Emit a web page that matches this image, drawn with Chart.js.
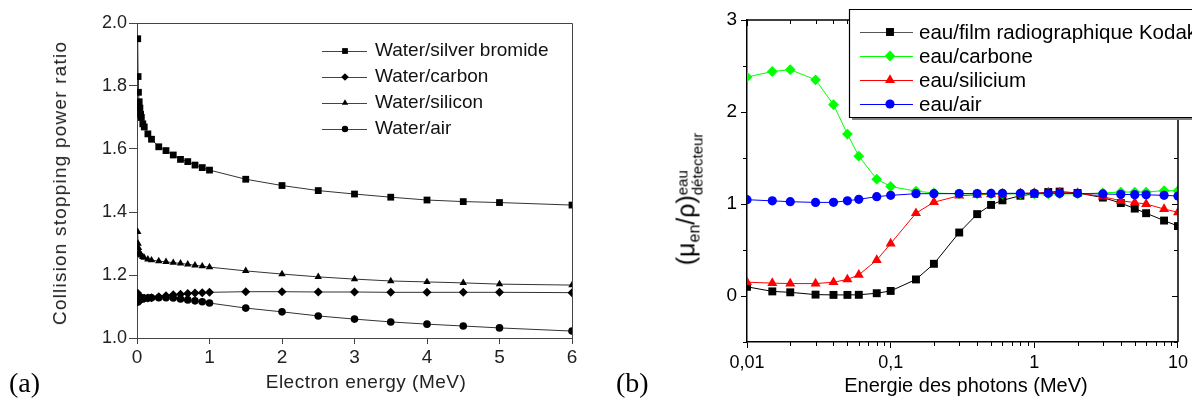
<!DOCTYPE html>
<html><head><meta charset="utf-8">
<script src="https://cdn.jsdelivr.net/npm/chart.js@4/dist/chart.umd.min.js"></script>
<style>
html,body{margin:0;padding:0;background:#fff;}
body{width:1192px;height:406px;position:relative;overflow:hidden;font-family:"Liberation Sans",Arial,sans-serif;}
#wa{position:absolute;left:0;top:0;width:600px;height:406px;}
#wb{position:absolute;left:600px;top:0;width:592px;height:406px;}
.lbl{position:absolute;white-space:nowrap;color:#000;}
.ctr{transform:translate(-50%,-50%);}
.rot{transform:translate(-50%,-50%) rotate(-90deg);}
.panel{font-family:"Liberation Serif","DejaVu Serif",serif;font-size:28px;}
.stk{display:inline-block;vertical-align:-8px;font-size:15px;line-height:15px;}
.stk span{display:block;}
</style></head><body>
<div id="wa"><canvas id="ca" width="600" height="406"></canvas></div>
<div id="wb"><canvas id="cb" width="592" height="406"></canvas></div>
<div class="lbl rot" style="left:60px;top:183px;font-size:19px;letter-spacing:1.2px;color:#222;">Collision stopping power ratio</div>
<div class="lbl ctr" style="left:366px;top:382px;font-size:19px;letter-spacing:0.5px;color:#222;">Electron energy (MeV)</div>
<div class="lbl panel" style="left:9px;top:367px;">(a)</div>
<div class="lbl ctr" style="left:966px;top:385px;font-size:20px;">Energie des photons (MeV)</div>
<div class="lbl panel" style="left:616px;top:367px;">(b)</div>
<div class="lbl rot" style="left:690px;top:199px;font-size:25px;line-height:34px;">(μ<span style="font-size:16px;vertical-align:-5px;">en</span>/ρ)<span class="stk"><span>eau</span><span>détecteur</span></span></div>
<script>
// ---------- Panel (a) data ----------
const energyA = [0.01,0.015,0.02,0.03,0.04,0.05,0.06,0.08,0.1,0.15,0.2,0.3,0.4,0.5,0.6,0.7,0.8,0.9,1,1.5,2,2.5,3,3.5,4,4.5,5,6];
const silverBromide = [1.95,1.83,1.78,1.75,1.73,1.71,1.70,1.68,1.67,1.648,1.631,1.607,1.595,1.581,1.567,1.56,1.549,1.541,1.533,1.504,1.484,1.468,1.457,1.447,1.438,1.433,1.43,1.422];
const carbonA = [1.142,1.135,1.131,1.128,1.127,1.126,1.126,1.126,1.126,1.127,1.128,1.131,1.134,1.137,1.139,1.141,1.143,1.144,1.145,1.147,1.147,1.146,1.146,1.145,1.145,1.145,1.145,1.144];
const siliconA = [1.337,1.30,1.286,1.273,1.268,1.265,1.262,1.258,1.255,1.25,1.247,1.244,1.242,1.239,1.237,1.234,1.231,1.228,1.225,1.213,1.203,1.194,1.187,1.181,1.178,1.175,1.171,1.168];
const airA = [1.114,1.116,1.118,1.12,1.122,1.123,1.124,1.125,1.126,1.127,1.128,1.128,1.128,1.127,1.124,1.121,1.118,1.115,1.111,1.095,1.083,1.07,1.06,1.051,1.044,1.038,1.032,1.022];
const seriesNamesA = ['Water/silver bromide','Water/carbon','Water/silicon','Water/air'];
const xTicksA = [0,1,2,3,4,5,6];
const xTickLabelsA = ['0','1','2','3','4','5','6'];
const yTicksA = [1.0,1.2,1.4,1.6,1.8,2.0];
const yTickLabelsA = ['1.0','1.2','1.4','1.6','1.8','2.0'];

// ---------- Panel (b) data ----------
const energyB = [0.01,0.015,0.02,0.03,0.04,0.05,0.06,0.08,0.1,0.15,0.2,0.3,0.4,0.5,0.6,0.8,1,1.25,1.5,2,3,4,5,6,8,10];
const kodakB = [0.1,0.05,0.04,0.015,0.012,0.012,0.013,0.03,0.055,0.18,0.35,0.69,0.89,0.99,1.04,1.09,1.11,1.13,1.135,1.12,1.07,1.01,0.95,0.9,0.82,0.76];
const carbonB = [2.38,2.44,2.46,2.35,2.08,1.76,1.52,1.27,1.19,1.14,1.12,1.11,1.11,1.11,1.11,1.11,1.11,1.11,1.11,1.11,1.12,1.13,1.13,1.13,1.145,1.145];
const siliconB = [0.15,0.14,0.135,0.135,0.15,0.18,0.23,0.39,0.57,0.9,1.02,1.09,1.1,1.105,1.11,1.115,1.12,1.125,1.125,1.12,1.08,1.035,1.015,1.0,0.945,0.91];
const airB = [1.047,1.034,1.025,1.017,1.018,1.035,1.051,1.08,1.094,1.112,1.112,1.113,1.114,1.115,1.116,1.116,1.116,1.116,1.116,1.115,1.109,1.105,1.101,1.1,1.094,1.087];
const seriesNamesB = ['eau/film radiographique Kodak','eau/carbone','eau/silicium','eau/air'];
const xTicksB = [0.01,0.1,1,10];
const xTickLabelsB = ['0,01','0,1','1','10'];
const yTicksB = [0,1,2,3];
const yTickLabelsB = ['0','1','2','3'];
const yMinorB = [-0.5,0.5,1.5,2.5];
const xMinorMultB = [2,3,4,5,6,7,8,9];

const FONT = '"Liberation Sans", Arial, sans-serif';
const pts = (xs, ys) => xs.map((x, i) => ({x: x, y: ys[i]}));

// ---------- Panel (a) ----------
const decorA = {
  id: 'decorA',
  afterDraw(chart) {
    const {ctx, chartArea: a} = chart;
    ctx.save();
    ctx.strokeStyle = '#444'; ctx.lineWidth = 1;
    ctx.beginPath();
    ctx.moveTo(a.left, a.top + 0.5); ctx.lineTo(a.right + 0.5, a.top + 0.5); ctx.lineTo(a.right + 0.5, a.bottom);
    ctx.stroke();
    const rows = [51, 77, 103, 129];
    chart.data.datasets.forEach((ds, i) => {
      const y = rows[i];
      ctx.strokeStyle = '#444'; ctx.lineWidth = 1;
      ctx.beginPath(); ctx.moveTo(322, y + 0.5); ctx.lineTo(367, y + 0.5); ctx.stroke();
      ctx.fillStyle = '#000'; ctx.strokeStyle = '#000';
      Chart.helpers.drawPoint(ctx, {pointStyle: ds.pointStyle, radius: ds.pointRadius * 0.85, rotation: 0, borderWidth: 0}, 345, y);
      ctx.fillStyle = '#111';
      ctx.font = '19px ' + FONT;
      ctx.textBaseline = 'middle'; ctx.textAlign = 'left';
      ctx.fillText(ds.label, 375, y);
    });
    ctx.restore();
  }
};

const styleA = [
  {pointStyle: 'rect', pointRadius: 4.8},
  {pointStyle: 'rectRot', pointRadius: 4.5},
  {pointStyle: 'triangle', pointRadius: 4.3},
  {pointStyle: 'circle', pointRadius: 3.8}
];
const valsA = [silverBromide, carbonA, siliconA, airA];

new Chart(document.getElementById('ca'), {
  type: 'line',
  data: {
    datasets: valsA.map((v, i) => ({
      label: seriesNamesA[i],
      data: pts(energyA, v),
      pointStyle: styleA[i].pointStyle,
      pointRadius: styleA[i].pointRadius,
      pointBackgroundColor: '#000',
      pointBorderColor: '#000',
      pointBorderWidth: 0,
      borderColor: '#333',
      borderWidth: 1,
      tension: 0,
      fill: false
    }))
  },
  options: {
    responsive: false, animation: false, events: [],
    layout: {padding: {left: 0, top: 23, right: 28, bottom: 0}},
    plugins: {legend: {display: false}, tooltip: {enabled: false}},
    scales: {
      x: {
        type: 'linear', min: 0, max: 6,
        afterFit(s) { s.height = 68; },
        afterBuildTicks(s) { s.ticks = xTicksA.map(v => ({value: v})); },
        ticks: {callback: (v, i) => xTickLabelsA[i], font: {family: FONT, size: 19}, color: '#222', padding: 2, maxRotation: 0, autoSkip: false},
        grid: {drawOnChartArea: false, drawTicks: true, tickLength: 6, color: '#444'},
        border: {color: '#444', width: 1}
      },
      y: {
        type: 'linear', min: 1, max: 2,
        afterFit(s) { s.width = 137; },
        afterBuildTicks(s) { s.ticks = yTicksA.map(v => ({value: v})); },
        ticks: {callback: (v, i) => yTickLabelsA[i], font: {family: FONT, size: 18}, color: '#222', padding: 2, autoSkip: false},
        grid: {drawOnChartArea: false, drawTicks: true, tickLength: 8, color: '#444'},
        border: {color: '#444', width: 1}
      }
    }
  },
  plugins: [decorA]
});

// ---------- Panel (b) ----------
const decorB = {
  id: 'decorB',
  afterDraw(chart) {
    const {ctx, chartArea: a, scales: {x, y}} = chart;
    ctx.save();
    ctx.strokeStyle = '#000'; ctx.lineWidth = 1.5;
    ctx.beginPath();
    ctx.moveTo(a.left, a.top); ctx.lineTo(a.right, a.top); ctx.lineTo(a.right, a.bottom);
    ctx.stroke();
    ctx.lineWidth = 1;
    const decades = xTicksB.slice(0, -1);
    decades.forEach(d => xMinorMultB.forEach(m => {
      const px = Math.round(x.getPixelForValue(d * m)) + 0.5;
      ctx.beginPath(); ctx.moveTo(px, a.bottom); ctx.lineTo(px, a.bottom + 4); ctx.stroke();
      ctx.beginPath(); ctx.moveTo(px, a.top); ctx.lineTo(px, a.top + 4); ctx.stroke();
    }));
    xTicksB.forEach(v => {
      const px = Math.round(x.getPixelForValue(v)) + 0.5;
      ctx.beginPath(); ctx.moveTo(px, a.top); ctx.lineTo(px, a.top + 6); ctx.stroke();
    });
    yMinorB.forEach(v => {
      const py = Math.round(y.getPixelForValue(v)) + 0.5;
      ctx.beginPath(); ctx.moveTo(a.left, py); ctx.lineTo(a.left - 4, py); ctx.stroke();
      ctx.beginPath(); ctx.moveTo(a.right, py); ctx.lineTo(a.right - 4, py); ctx.stroke();
    });
    yTicksB.forEach(v => {
      const py = Math.round(y.getPixelForValue(v)) + 0.5;
      ctx.beginPath(); ctx.moveTo(a.right, py); ctx.lineTo(a.right - 6, py); ctx.stroke();
    });
    // legend box (extends past the right edge, as in the original)
    const bx = 249, by = 9, bw = 380, bh = 108;
    ctx.fillStyle = '#808080';
    ctx.fillRect(bx + 3, by + 3, bw, bh);
    ctx.fillStyle = '#fff';
    ctx.fillRect(bx, by, bw, bh);
    ctx.strokeStyle = '#000'; ctx.lineWidth = 1.2;
    ctx.beginPath();
    ctx.moveTo(bx + bw, by + 0.5); ctx.lineTo(bx + 0.5, by + 0.5); ctx.lineTo(bx + 0.5, by + bh + 0.5); ctx.lineTo(bx + bw, by + bh + 0.5);
    ctx.stroke();
    const rows = [32, 56, 80, 104];
    chart.data.datasets.forEach((ds, i) => {
      const yy = rows[i];
      ctx.strokeStyle = i === 0 ? '#555' : ds.borderColor; ctx.lineWidth = 1;
      ctx.beginPath(); ctx.moveTo(260, yy + 0.5); ctx.lineTo(313, yy + 0.5); ctx.stroke();
      ctx.fillStyle = ds.pointBackgroundColor; ctx.strokeStyle = ds.pointBackgroundColor;
      Chart.helpers.drawPoint(ctx, {pointStyle: ds.pointStyle, radius: ds.pointRadius, rotation: 0, borderWidth: 0}, 290, yy);
      ctx.fillStyle = '#000';
      ctx.font = '20.5px ' + FONT;
      ctx.textBaseline = 'middle'; ctx.textAlign = 'left';
      ctx.fillText(ds.label, 319, yy + 1);
    });
    ctx.restore();
  }
};

const styleB = [
  {pointStyle: 'rect', pointRadius: 5.6, color: '#000000', order: 3},
  {pointStyle: 'rectRot', pointRadius: 5.4, color: '#00ff00', order: 1},
  {pointStyle: 'triangle', pointRadius: 5.8, color: '#ff0000', order: 2},
  {pointStyle: 'circle', pointRadius: 4.6, color: '#0000ff', order: 0}
];
const valsB = [kodakB, carbonB, siliconB, airB];

new Chart(document.getElementById('cb'), {
  type: 'line',
  data: {
    datasets: valsB.map((v, i) => ({
      label: seriesNamesB[i],
      data: pts(energyB, v),
      order: styleB[i].order,
      pointStyle: styleB[i].pointStyle,
      pointRadius: styleB[i].pointRadius,
      pointBackgroundColor: styleB[i].color,
      pointBorderColor: styleB[i].color,
      pointBorderWidth: 0,
      borderColor: styleB[i].color,
      borderWidth: 1,
      tension: 0,
      fill: false
    }))
  },
  options: {
    responsive: false, animation: false, events: [],
    layout: {padding: {left: 0, top: 20, right: 8, bottom: 0}},
    plugins: {legend: {display: false}, tooltip: {enabled: false}},
    scales: {
      x: {
        type: 'logarithmic', min: 0.01, max: 10,
        afterFit(s) { s.height = 64; },
        afterBuildTicks(s) { s.ticks = xTicksB.map(v => ({value: v})); },
        ticks: {callback: (v, i) => xTickLabelsB[i], font: {family: FONT, size: 18}, color: '#000', padding: 4, maxRotation: 0, autoSkip: false},
        grid: {drawOnChartArea: false, drawTicks: true, tickLength: 6, color: '#000', lineWidth: 1},
        border: {color: '#000', width: 1.5}
      },
      y: {
        type: 'linear', min: -0.5, max: 3,
        afterFit(s) { s.width = 147; },
        afterBuildTicks(s) { s.ticks = yTicksB.map(v => ({value: v})); },
        ticks: {callback: (v, i) => yTickLabelsB[i], font: {family: FONT, size: 19}, color: '#000', padding: 4, autoSkip: false},
        grid: {drawOnChartArea: false, drawTicks: true, tickLength: 6, color: '#000', lineWidth: 1},
        border: {color: '#000', width: 1.5}
      }
    }
  },
  plugins: [decorB]
});
</script>
</body></html>
